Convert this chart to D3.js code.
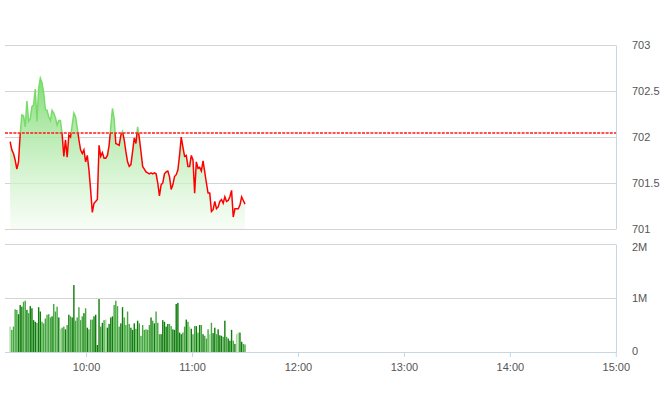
<!DOCTYPE html>
<html><head><meta charset="utf-8">
<script src="https://cdn.jsdelivr.net/npm/d3@7"></script>
<style>
html,body{margin:0;padding:0;background:#fff;}
svg{display:block;font-family:Roboto,"Noto Sans",sans-serif;}
</style></head>
<body><svg id="c" width="660" height="412"></svg>
<script>
// ---- data ----
const sessionStart = "09:15";
const sessionEnd = "15:00";
const firstTick = "09:17";
const tickStepSeconds = 57;
const refPrice = 702.04;
const priceTicks = [701, 701.5, 702, 702.5, 703];
const volumeTicks = [0, 1000000, 2000000];
const timeTicks = ["10:00", "11:00", "12:00", "13:00", "14:00", "15:00"];
const prices = [
701.95,701.86,701.82,701.75,701.65,701.73,702.03,702.24,702.23,702.11,
702.39,702.17,702.20,702.33,702.35,702.52,702.17,702.53,702.64,702.59,
702.48,702.30,702.29,702.22,702.18,702.29,702.26,702.21,702.13,702.18,
702.18,702.03,701.79,701.97,701.78,702.02,702.00,702.13,702.26,702.22,
702.10,701.97,701.86,701.82,701.86,701.73,701.80,701.64,701.42,701.18,
701.28,701.30,701.32,701.91,701.79,701.83,701.77,701.77,701.80,701.91,
702.11,702.31,702.20,701.93,701.92,701.91,702.02,702.06,701.97,701.84,
701.73,701.68,701.70,701.84,701.99,701.93,702.11,701.99,701.84,701.68,
701.65,701.62,701.61,701.60,701.61,701.60,701.61,701.60,701.50,701.36,
701.48,701.50,701.60,701.62,701.63,701.57,701.43,701.48,701.57,701.59,
701.64,701.80,702.00,701.89,701.79,701.80,701.68,701.68,701.80,701.75,
701.39,701.73,701.66,701.67,701.63,701.74,701.62,701.50,701.39,701.39,
701.19,701.21,701.30,701.22,701.24,701.30,701.32,701.28,701.35,701.30,
701.31,701.35,701.42,701.13,701.22,701.22,701.22,701.26,701.35,701.31,
701.27];
const volumesM = [
0.47,0.41,0.47,0.79,0.78,0.70,0.87,0.84,0.93,0.95,
0.78,0.72,0.85,0.81,0.59,0.56,0.54,0.83,0.75,0.56,
0.53,0.62,0.69,0.70,0.64,0.66,0.89,0.75,0.84,0.64,
0.43,0.45,0.47,0.42,0.50,0.69,0.66,0.64,1.24,0.58,
0.64,0.83,0.59,0.66,0.72,0.81,0.45,0.42,0.60,0.60,
0.66,0.69,0.13,0.98,0.47,0.54,0.59,0.60,0.45,0.52,
0.64,0.66,0.87,0.95,0.85,0.47,0.53,0.83,0.64,0.50,
0.75,0.52,0.45,0.41,0.53,0.43,0.58,0.53,0.30,0.50,
0.41,0.42,0.41,0.50,0.64,0.58,0.53,0.75,0.54,0.33,
0.33,0.59,0.56,0.47,0.52,0.52,0.48,0.42,0.41,0.89,
0.91,0.36,0.33,0.36,0.47,0.60,0.56,0.47,0.43,0.33,
0.48,0.48,0.36,0.50,0.50,0.33,0.30,0.25,0.42,0.33,
0.54,0.35,0.45,0.33,0.42,0.31,0.30,0.28,0.58,0.28,
0.25,0.21,0.41,0.21,0.15,0.33,0.36,0.36,0.19,0.15,
0.14];

// ---- build ----
const parseHM = s => { const [h,m] = s.split(":").map(Number); return new Date(2024,0,2,h,m,0); };
const t0 = parseHM(firstTick);
const rows = prices.map((p,i) => ({
  t: new Date(t0.getTime() + i*tickStepSeconds*1000),
  p,
  v: (volumesM[i] || 0) * 1e6,
  dir: i === 0 ? 0 : Math.sign(p - prices[i-1])
}));

const L = 5, R = 616;
const x = d3.scaleTime().domain([parseHM(sessionStart), parseHM(sessionEnd)]).range([6.6, 615.8]);
const yP = d3.scaleLinear().domain([701, 703]).range([229, 45]);
const yV = d3.scaleLinear().domain([0, 2000000]).range([352, 244]);

const svg = d3.select("#c");
const defs = svg.append("defs");
const g = defs.append("linearGradient").attr("id","gf").attr("gradientUnits","userSpaceOnUse")
  .attr("x1",0).attr("x2",0).attr("y1",yP(702.7)).attr("y2",yP(701));
g.append("stop").attr("offset","0").attr("stop-color","#76d96a").attr("stop-opacity",0.95);
g.append("stop").attr("offset","0.45").attr("stop-color","#b0e9a8").attr("stop-opacity",0.8);
g.append("stop").attr("offset","1").attr("stop-color","#f2fcf0").attr("stop-opacity",0.6);

const yRefPx = yP(refPrice);
defs.append("clipPath").attr("id","above").append("rect")
  .attr("x",0).attr("y",0).attr("width",660).attr("height",yRefPx);
defs.append("clipPath").attr("id","below").append("rect")
  .attr("x",0).attr("y",yRefPx).attr("width",660).attr("height",412);

const gridColor = "#d4d4d4", borderColor = "#c9d5e3", textColor = "#555";

// price axis + grid
const ay = svg.append("g").attr("transform",`translate(${R},0)`)
  .call(d3.axisRight(yP).tickValues(priceTicks).tickSizeInner(-(R-L)).tickSizeOuter(0).tickPadding(16).tickFormat(d=>String(d)));
ay.selectAll(".tick line").attr("stroke",gridColor);
ay.select(".domain").attr("stroke",borderColor);
ay.selectAll("text").attr("fill",textColor).style("font-size","11px");

// volume axis + grid
const av = svg.append("g").attr("transform",`translate(${R},0)`)
  .call(d3.axisRight(yV).tickValues(volumeTicks).tickSizeInner(-(R-L)).tickSizeOuter(0).tickPadding(16)
    .tickFormat(d => d === 0 ? "0" : (d/1e6) + "M"));
av.selectAll(".tick line").attr("stroke",gridColor);
av.select(".domain").attr("stroke",borderColor);
av.selectAll("text").attr("fill",textColor).style("font-size","11px");
av.selectAll(".tick").filter(d=>d===0).select("line").attr("stroke","none");
av.selectAll(".tick").filter(d=>d===2000000).select("text").attr("dy","0.55em");
av.selectAll(".tick").filter(d=>d===0).select("text").attr("dy","0.2em");

// area + line
const area = d3.area().x(d=>x(d.t)).y0(yP(701)).y1(d=>yP(d.p));
svg.append("path").datum(rows).attr("d",area).attr("fill","url(#gf)");
const line = d3.line().x(d=>x(d.t)).y(d=>yP(d.p));
svg.append("path").datum(rows).attr("d",line).attr("fill","none").attr("stroke","#79dc6a")
  .attr("stroke-width",1.5).attr("clip-path","url(#above)");
svg.append("path").datum(rows).attr("d",line).attr("fill","none").attr("stroke","#ff0000")
  .attr("stroke-width",1.5).attr("clip-path","url(#below)");

// reference line
svg.append("line").attr("x1",L).attr("x2",R).attr("y1",133).attr("y2",133)
  .attr("stroke","#ff1a1a").attr("stroke-width",1.5).attr("stroke-dasharray","3,1.2");

// volume bars
const barColor = d => d.dir > 0 ? "#0f7d0c" : d.dir < 0 ? "#45a83f" : "#a8daa2";
svg.append("g").selectAll("rect").data(rows).join("rect")
  .attr("x", d => x(d.t) - 0.7).attr("width", 1.4)
  .attr("y", d => yV(d.v)).attr("height", d => yV(0) - yV(d.v))
  .attr("fill", barColor);

// time axis
const ax = svg.append("g").attr("transform",`translate(0,352)`)
  .call(d3.axisBottom(x).tickValues(timeTicks.map(parseHM)).tickSizeInner(5).tickSizeOuter(0).tickPadding(6)
    .tickFormat(d3.timeFormat("%H:%M")));
ax.select(".domain").attr("stroke",borderColor).attr("d",`M${L},0.5H${R}`);
ax.selectAll(".tick line").attr("stroke",borderColor);
ax.selectAll("text").attr("fill",textColor).style("font-size","11px");
</script></body></html>
